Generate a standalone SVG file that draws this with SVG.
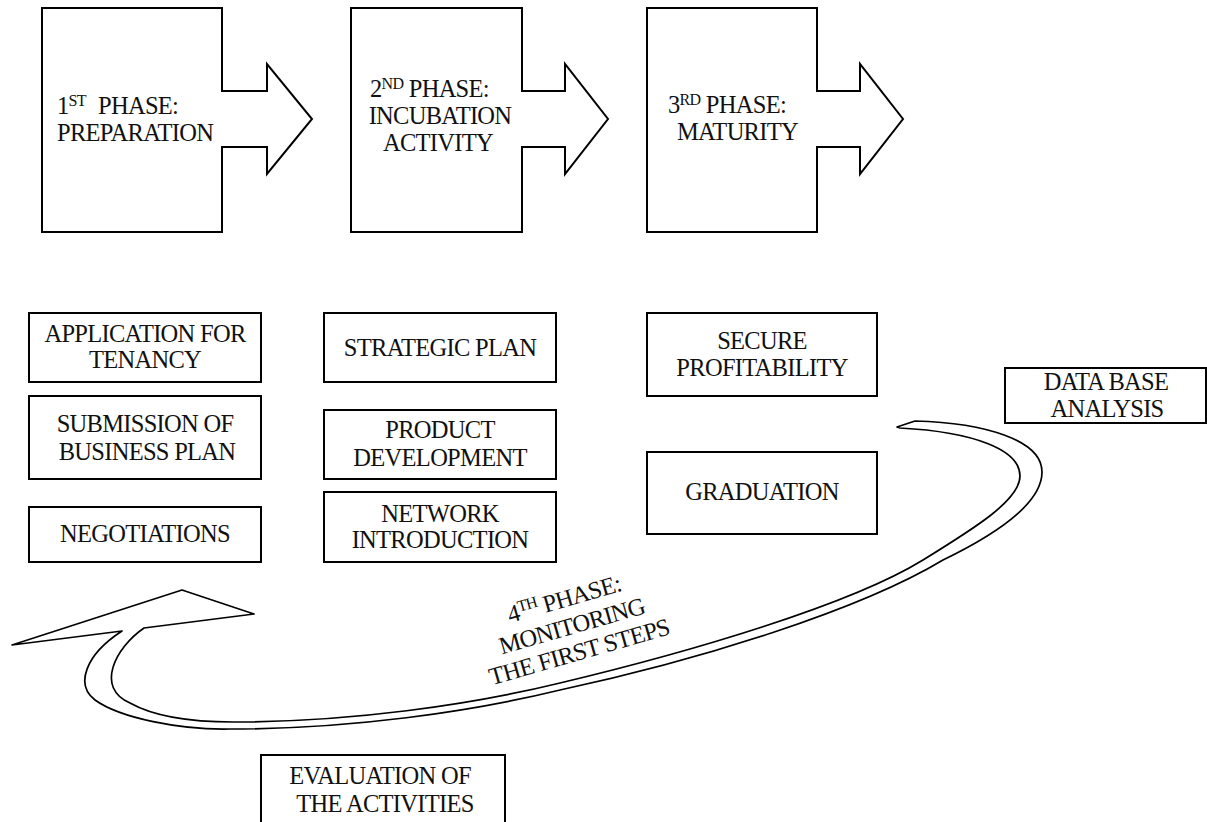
<svg xmlns="http://www.w3.org/2000/svg" width="1207" height="822" viewBox="0 0 1207 822">
<style>
  .bg{fill:#ffffff}
  .shape{fill:#ffffff;stroke:#000;stroke-width:2;stroke-linejoin:miter}
  .box{fill:#ffffff;stroke:#000;stroke-width:2}
  .curve{fill:#ffffff;stroke:#000;stroke-width:1.7;stroke-linejoin:round}
  text{font-family:"Liberation Serif","Times New Roman",serif;font-size:24.5px;fill:#111;letter-spacing:-0.7px}
  .c{text-anchor:middle}
  .sup{font-size:16px}
</style>
<rect class="bg" x="0" y="0" width="1207" height="822"/>

<g id="connectors">
  <path id="monitoring-arrow" class="curve" d="M12,645 L182,590 L254,614 L144,628 C115,648 95,688 130,703 C155,717 195,722 233,722 C350,722 470,705 560,683 C690,652 850,605 923,560 C975,528 1020,500 1020,476 C1020,450 975,432 900,428 L897,427 L915,421 C985,423 1042,440 1042,472 C1042,500 1005,530 943,560 C860,610 700,660 560,690 C470,712 350,729 230,729 C180,730 120,718 95,700 C75,685 85,655 122,631 Z"/>
</g>

<g id="phase1">
  <path class="shape" d="M42,8 H222 V91 H267 V64 L312,119 L267,174 V147 H222 V232 H42 Z"/>
  <text x="57" y="114">1<tspan class="sup" dy="-8">ST</tspan><tspan dy="8" x="98">PHASE:</tspan></text>
  <text x="57" y="141">PREPARATION</text>
</g>
<g id="phase2">
  <path class="shape" d="M351,8 H522 V91 H565 V64 L608,119 L565,174 V147 H522 V232 H351 Z"/>
  <text x="370" y="97">2<tspan class="sup" dy="-8">ND</tspan><tspan dy="8"> PHASE:</tspan></text>
  <text class="c" x="440" y="124">INCUBATION</text>
  <text class="c" x="438" y="151">ACTIVITY</text>
</g>
<g id="phase3">
  <path class="shape" d="M647,8 H817 V91 H860 V64 L903,119 L860,174 V147 H817 V232 H647 Z"/>
  <text x="668" y="113">3<tspan class="sup" dy="-8">RD</tspan><tspan dy="8"> PHASE:</tspan></text>
  <text x="677" y="140">MATURITY</text>
</g>

<g id="application">
  <rect class="box" x="29" y="313" width="232" height="69"/>
  <text class="c" x="145" y="342">APPLICATION FOR</text>
  <text class="c" x="145" y="368">TENANCY</text>
</g>
<g id="submission">
  <rect class="box" x="29" y="396" width="232" height="83"/>
  <text class="c" x="145" y="432">SUBMISSION OF</text>
  <text class="c" x="147" y="460">BUSINESS PLAN</text>
</g>
<g id="negotiations">
  <rect class="box" x="29" y="507" width="232" height="55"/>
  <text class="c" x="145" y="542">NEGOTIATIONS</text>
</g>
<g id="strategic">
  <rect class="box" x="324" y="313" width="232" height="69"/>
  <text class="c" x="440" y="356">STRATEGIC PLAN</text>
</g>
<g id="product">
  <rect class="box" x="324" y="410" width="232" height="69"/>
  <text class="c" x="440" y="438">PRODUCT</text>
  <text class="c" x="440" y="466">DEVELOPMENT</text>
</g>
<g id="network">
  <rect class="box" x="324" y="492" width="232" height="70"/>
  <text class="c" x="440" y="522">NETWORK</text>
  <text class="c" x="440" y="548">INTRODUCTION</text>
</g>
<g id="secure">
  <rect class="box" x="647" y="313" width="230" height="83"/>
  <text class="c" x="762" y="349">SECURE</text>
  <text class="c" x="762" y="376">PROFITABILITY</text>
</g>
<g id="graduation">
  <rect class="box" x="647" y="452" width="230" height="82"/>
  <text class="c" x="762" y="500">GRADUATION</text>
</g>
<g id="database">
  <rect class="box" x="1005" y="368" width="201" height="55"/>
  <text class="c" x="1106" y="390">DATA BASE</text>
  <text class="c" x="1107" y="417">ANALYSIS</text>
</g>
<g id="evaluation">
  <rect class="box" x="261" y="755" width="244" height="80"/>
  <text class="c" x="380" y="784">EVALUATION OF</text>
  <text class="c" x="385" y="812">THE ACTIVITIES</text>
</g>

<g id="phase4-label" transform="translate(493,685) rotate(-16)">
  <text class="c" x="92" y="-55">4<tspan class="sup" dy="-8">TH</tspan><tspan dy="8"> PHASE:</tspan></text>
  <text class="c" x="92" y="-27">MONITORING</text>
  <text class="c" x="92" y="0">THE FIRST STEPS</text>
</g>
</svg>
